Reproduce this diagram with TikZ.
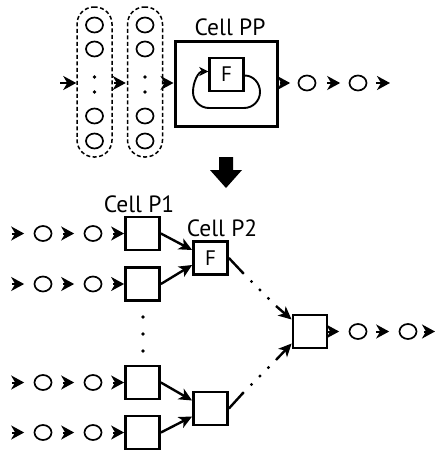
\documentclass[tikz,border=0pt]{standalone}
\usepackage{fontspec}
\setmainfont{PT Sans}
\usetikzlibrary{arrows.meta,shapes.geometric}
\begin{document}
\begin{tikzpicture}[x=1pt,y=-1pt,
  ring/.style={ellipse,draw,line width=1.7pt,minimum width=17pt,minimum height=15pt,inner sep=0pt},
  cellbox/.style={draw,line width=2.8pt,minimum width=34pt,minimum height=33pt,inner sep=0pt,font=\fontsize{21}{22}\selectfont},
  tip/.style={-{Stealth[length=13pt,width=14pt,inset=4pt]},line width=2pt},
  link/.style={-{Stealth[length=13pt,width=12pt,inset=3.5pt]},line width=2.4pt},
  solidlink/.style={line width=2.4pt},
  dotlink/.style={line width=3.4pt,line cap=round,dash pattern=on 0pt off 12pt},
  capsule/.style={draw,line width=1.5pt,dash pattern=on 4pt off 2.5pt,rounded corners=17pt,minimum width=35pt,minimum height=150pt,inner sep=0pt},
  lbl/.style={font=\fontsize{23.5}{26}\selectfont,inner sep=0pt,anchor=base},
  dot/.style={circle,fill,inner sep=0pt,minimum size=3.6pt}]
\useasboundingbox (0,0) rectangle (436,450);

% ---------- top part ----------
\coordinate (s0) at (60,83);
\node[capsule] (cap1) at (94.5,82) {};
\node[capsule] (cap2) at (145,82) {};
\foreach \c/\x in {1/94.5,2/145}{
  \node[ring] (k\c a) at (\x,25) {};
  \node[ring] (k\c b) at (\x,49) {};
  \node[dot]  (k\c c) at (\x,77) {};
  \node[dot]  (k\c d) at (\x,92) {};
  \node[ring] (k\c e) at (\x,116) {};
  \node[ring] (k\c f) at (\x,141) {};
}
\node[draw,line width=3pt,minimum width=102pt,minimum height=85pt,inner sep=0pt] (pp) at (226,83.5) {};
\node[lbl] (lpp) at (230,35) {Cell PP};
\node[cellbox,line width=2.4pt] (f) at (226.5,74.5) {F};
\draw[line width=1.9pt,-{Stealth[length=9pt,width=9pt,inset=2.5pt]}]
  ([yshift=-1pt]f.east) to[out=0,in=90] (260,92) to[out=-90,in=0] (244,108)
  -- (209,108) to[out=180,in=-90] (193,92) to[out=90,in=180] ([yshift=3pt]f.west);
\draw[tip] (s0) -- (cap1.west |- s0);
\draw[tip] ([xshift=1pt]cap1.east |- s0) -- ([xshift=-1pt]cap2.west |- s0);
\draw[tip] (cap2.east |- s0) -- (pp.west |- s0);
\node[ring] (o1) at (307,83) {};
\node[ring] (o2) at (358,83) {};
\coordinate (oe) at (390,83);
\draw[tip] ([xshift=1pt]pp.east |- o1) -- ([xshift=-7.5pt]o1.west);
\draw[tip] ([xshift=11pt]o1.east) -- ([xshift=-8.5pt]o2.west);
\draw[tip] ([xshift=8.5pt]o2.east) -- (oe);

% big down arrow
\fill (219,157) -- (233,157) -- (233,170) -- (242,170) -- (226,188) -- (210,170) -- (219,170) -- cycle;

% ---------- bottom part ----------
\foreach \i/\y in {1/233.5,2/284,3/382.5,4/432.5}{
  \coordinate (rs\i) at (12,\y);
  \node[ring] (ra\i) at (43,\y) {};
  \node[ring] (rb\i) at (93,\y) {};
  \node[cellbox] (p\i) at (142.5,\y) {};
  \draw[tip] (rs\i) -- ([xshift=-9.5pt]ra\i.west);
  \draw[tip] ([xshift=10.5pt]ra\i.east) -- ([xshift=-9.5pt]rb\i.west);
  \draw[tip] ([xshift=10.5pt]rb\i.east) -- (p\i.west);
}
\node[lbl] (lp1) at (139,212) {Cell P1};
\node[lbl] (lp2) at (222,236) {Cell P2};
\node[dot] (v1) at (143,317) {};
\node[dot] (v2) at (143,334) {};
\node[dot] (v3) at (143,351) {};

\node[cellbox] (q1) at (210.5,258) {F};
\node[cellbox] (q2) at (210.5,408.5) {};
\node[cellbox] (fin) at (310,331.5) {};

\draw[link] (p1.east) -- ([yshift=8pt]q1.west);
\draw[link] (p2.east) -- ([yshift=-7pt]q1.west);
\draw[link] (p3.east) -- ([yshift=8pt]q2.west);
\draw[link] (p4.east) -- ([yshift=-8pt]q2.west);

\coordinate (m1) at (243,273);
\coordinate (m2) at (276,306);
\coordinate (m3) at (243,393);
\coordinate (m4) at (276,360);
\draw[solidlink] (q1.east) -- (m1);
\draw[dotlink] (m1) -- (m2);
\draw[link] (m2) -- ([yshift=12pt]fin.west);
\draw[solidlink] (q2.east) -- (m3);
\draw[dotlink] (m3) -- (m4);
\draw[link] (m4) -- ([yshift=-12pt]fin.west);

\node[ring] (u1) at (358,331.5) {};
\node[ring] (u2) at (408,331.5) {};
\coordinate (ue) at (435,331.5);
\draw[tip] (fin.east) -- ([xshift=-9.5pt]u1.west);
\draw[tip] ([xshift=8.5pt]u1.east) -- ([xshift=-9.5pt]u2.west);
\draw[tip] ([xshift=6.5pt]u2.east) -- (ue);
\end{tikzpicture}
\end{document}
